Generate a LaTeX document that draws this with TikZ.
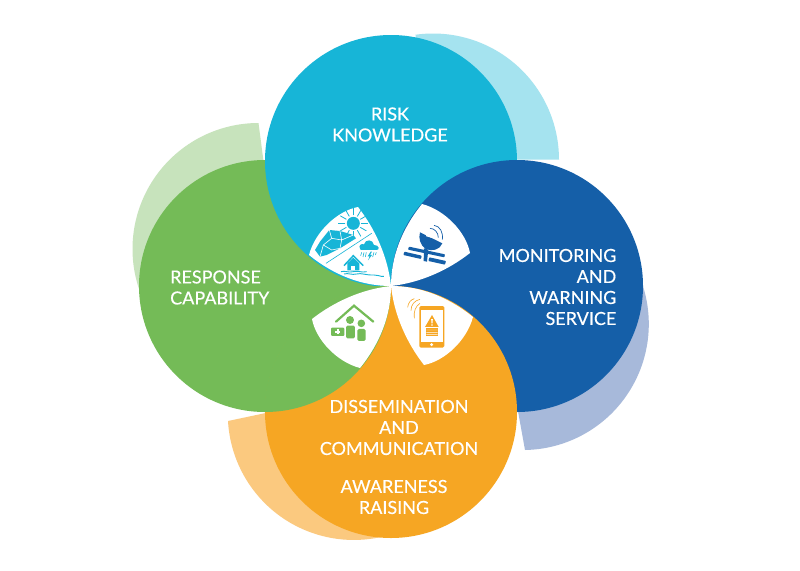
\documentclass[tikz,border=0pt]{standalone}
\usepackage{fontspec}
\setmainfont{Lato}
\newfontfamily\labelfamily[FakeBold=0.35]{Lato}
\definecolor{cCyan}{HTML}{17B5D7}
\definecolor{cBlue}{HTML}{155FA8}
\definecolor{cOrange}{HTML}{F6A623}
\definecolor{cGreen}{HTML}{74BB57}
\definecolor{pCyan}{HTML}{A5E3EF}
\definecolor{pBlue}{HTML}{A7B9DA}
\definecolor{pOrange}{HTML}{FBC97F}
\definecolor{pGreen}{HTML}{C7E3BC}
\tikzset{
  x=1pt,y=-1pt,
  label text/.style={text=white,font=\labelfamily\fontsize{18}{21}\selectfont,inner sep=0pt},
  icon frame/.style={x=0.3333pt,y=-0.3333pt},
}
\begin{document}
\begin{tikzpicture}
\useasboundingbox (0,0) rectangle (800,570);
\fill[white] (0,0) rectangle (800,570);
% pale backing arcs
\fill[pCyan] (433,159.5) -- ++(98:126pt) arc[start angle=98,end angle=0,radius=126pt] -- cycle;
\fill[pGreen] (264,165) -- (258.5,123) arc[start angle=90,end angle=200,radius=126pt] -- (264,249) -- cycle;
\fill[pBlue] (516,400) -- (525,450) arc[start angle=-89,end angle=20,radius=126pt] -- (523,324) -- cycle;
\fill[pOrange] (280,410) -- (228,421) arc[start angle=183.2,end angle=282,radius=126pt] -- (354,414) -- cycle;
% main discs, cyclic overlap
\fill[cGreen] (265,286) circle[radius=126pt];
\fill[cCyan] (391,161) circle[radius=126pt];
\fill[cBlue] (517,286) circle[radius=126pt];
\fill[cOrange] (391,412) circle[radius=126pt];
\begin{scope}
\clip (391,412) circle[radius=126.5pt];
\fill[cGreen] (265,286) circle[radius=126pt];
\end{scope}
% white petals
\foreach \a in {0,-90,-180,-270}{
  \begin{scope}[shift={(391,286)},rotate=\a]
  \fill[white] (0,0) .. controls (-3,-28) and (-15,-56) .. (-33,-79)
     .. controls (-54,-75) and (-76,-54) .. (-82,-31)
     .. controls (-56,-10) and (-28,0) .. (0,0) -- cycle;
  \end{scope}
}
% hazard icon
\begin{scope}[shift={(300,195)},icon frame]
  \fill[cCyan] (160,85) circle[radius=6.5pt];
  \foreach \r in {0,30,...,330}{
    \draw[cCyan,line width=0.8pt] (160,85) ++(\r:8pt) -- ++(\r:7pt);
  }
  \fill[cCyan] (88,105) -- (120,108) -- (160,120) -- (168,130) -- (120,160) -- (80,180) -- (60,185) -- (45,165) -- (60,140) -- cycle;
  \draw[white,line width=0.6pt] (88,105) -- (95,130) -- (70,150) -- (60,185)
     (95,130) -- (125,135) -- (120,160) (125,135) -- (160,120) (70,150) -- (95,165) -- (120,160) (120,108) -- (125,135);
  \draw[cCyan,line width=0.6pt] (78,205) -- (215,115);
  % cloud
  \fill[cCyan] (182,165) .. controls (172,150) and (185,145) .. (192,148)
     .. controls (195,132) and (220,132) .. (222,150)
     .. controls (238,150) and (240,165) .. (230,165) -- cycle;
  \draw[cCyan,line width=0.6pt] (185,172) -- (182,182) (192,172) -- (189,186) (199,172) -- (196,186)
     (222,172) -- (218,186) (229,172) -- (226,180);
  \fill[cCyan] (212,170) -- (203,184) -- (209,184) -- (204,196) -- (216,180) -- (210,180) -- (216,170) -- cycle;
  % house
  \draw[cCyan,line width=1.5pt] (132,212) -- (160,182) -- (190,212);
  \fill[cCyan] (142,205) -- (160,188) -- (178,205) -- (178,226) -- (142,226) -- cycle;
  \fill[white] (154,212) rectangle (166,226);
  \draw[cCyan,line width=0.9pt] (123,230) .. controls (135,226) and (145,234) .. (160,230) .. controls (175,226) and (185,234) .. (200,230)
     (132,237) .. controls (145,233) and (155,241) .. (170,237) .. controls (185,233) and (195,241) .. (222,240) .. controls (232,238) and (240,246) .. (252,244);
\end{scope}
% satellite dish icon
\begin{scope}[shift={(385,195)},icon frame]
  \fill[cBlue] (105,112) -- (172,145) .. controls (165,165) and (140,170) .. (122,162) .. controls (105,150) and (100,130) .. (105,112) -- cycle;
  \fill[white] (122,118) -- (152,132) -- (124,124) -- cycle;
  \fill[cBlue] (117,160) -- (130,164) -- (126,200) -- (116,198) -- cycle;
  \fill[cBlue,rounded corners=0.7pt] (72,155) -- (180,178) -- (178,187) -- (69,164) -- cycle;
  \fill[cBlue,rounded corners=0.7pt] (58,170) -- (110,182) -- (108,192) -- (55,180) -- cycle;
  \fill[cBlue,rounded corners=0.7pt] (133,187) -- (183,198) -- (180,209) -- (130,198) -- cycle;
  \draw[cBlue,line width=0.7pt] (135,100) .. controls (148,100) and (160,112) .. (160,128);
  \draw[cBlue,line width=0.7pt] (147,91) .. controls (165,93) and (175,112) .. (172,134);
\end{scope}
% people and house icon
\begin{scope}[shift={(300,280)},icon frame]
  \draw[cGreen,line width=2.2pt,line cap=round,line join=miter] (108,125) -- (162,77) -- (220,125);
  \fill[cGreen,rounded corners=1pt] (93,143) rectangle (133,168);
  \fill[white] (110,148) rectangle (116,163);
  \fill[white] (105,152.5) rectangle (121,158.5);
  \fill[cGreen] (150,120) circle[radius=4pt];
  \fill[cGreen,rounded corners=1.5pt] (138,137) rectangle (165,175);
  \fill[cGreen] (184,130) circle[radius=3.8pt];
  \fill[cGreen,rounded corners=1.5pt] (172,147) rectangle (197,183);
\end{scope}
% phone icon
\begin{scope}[shift={(385,280)},icon frame]
  \fill[cOrange,rounded corners=1.5pt] (103,78) rectangle (178,203);
  \fill[white] (108,90) rectangle (173,185);
  \fill[white] (140,194) circle[radius=1.6pt];
  \fill[cOrange] (120,141) -- (141,105) -- (161,141) -- cycle;
  \fill[white] (138.5,117) -- (143.5,117) -- (142.5,130) -- (139.5,130) -- cycle;
  \fill[white] (141,135) circle[radius=0.9pt];
  \fill[cOrange] (122,145) rectangle (160,168);
  \foreach \yy in {150,157,164}{
    \draw[white,line width=0.45pt] (124,\yy) .. controls (130,\yy-3) and (134,\yy+3) .. (141,\yy) .. controls (147,\yy-3) and (152,\yy+3) .. (158,\yy);
  }
  \draw[cOrange,line width=0.6pt] (68,82) .. controls (70,68) and (76,60) .. (88,56);
  \draw[cOrange,line width=0.6pt] (78,92) .. controls (78,74) and (88,62) .. (105,58);
  \draw[cOrange,line width=0.6pt] (88,115) .. controls (85,95) and (92,78) .. (105,70);
\end{scope}
% labels
\node[label text,align=center] (risk) at (390,124.5) {RISK\\KNOWLEDGE};
\node[label text,align=right,anchor=east] (mon) at (616.5,287) {MONITORING\\AND\\WARNING\\SERVICE};
\node[label text,align=left,anchor=west] (resp) at (170,287.5) {RESPONSE\\CAPABILITY};
\node[label text,align=center] (diss) at (399,427.5) {DISSEMINATION\\AND\\COMMUNICATION};
\node[label text,align=center] (aware) at (394,497) {AWARENESS\\RAISING};
\end{tikzpicture}
\end{document}
